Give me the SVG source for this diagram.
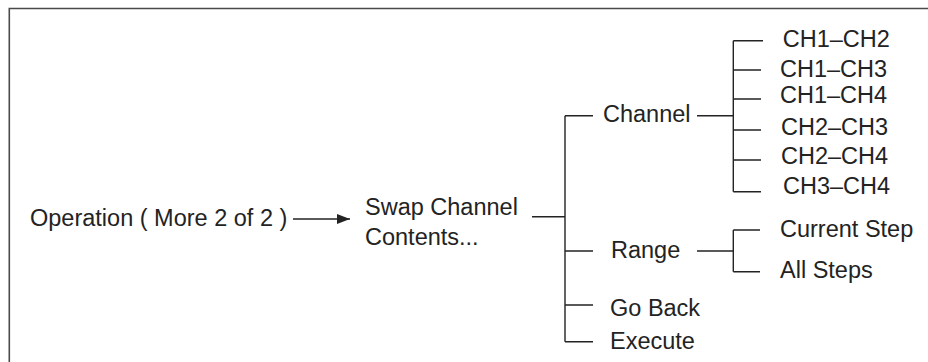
<svg xmlns="http://www.w3.org/2000/svg" width="928" height="362" viewBox="0 0 928 362">
<style>
text{font-family:"Liberation Sans",Arial,sans-serif;font-size:23.5px;fill:#232323}
.ln{stroke:#232323;stroke-width:1.4;fill:none}
.frame{stroke:#4a4a4a;stroke-width:1.6;fill:none}
</style>
<defs>
<marker id="ah" markerWidth="14" markerHeight="11" refX="13" refY="5.5" orient="auto" markerUnits="userSpaceOnUse">
<path d="M0,0.5 L13,5.5 L0,10.5 Z" fill="#232323"/>
</marker>
</defs>
<rect width="928" height="362" fill="#fff"/>
<path class="frame" d="M9.3 370 V8.5 H940"/>
<g id="connectors">
<line class="ln" x1="293" y1="219" x2="350" y2="219" marker-end="url(#ah)"/>
<path class="ln" d="M532 216.7 H565 M565 115.7 V341.7 M565 115.7 H593 M565 251 H593 M565 305 H593 M565 341.7 H593"/>
<path class="ln" d="M697 115.7 H733.3 M733.3 40.7 V191.7 M733.3 40.7 H763 M733.3 70 H761 M733.3 99 H761 M733.3 130 H761 M733.3 160 H761 M733.3 191.7 H761"/>
<path class="ln" d="M697 251 H733.3 M733.3 230 V271.7 M733.3 230 H760 M733.3 271.7 H760"/>
</g>
<g id="operation"><text x="30" y="226">Operation ( More 2 of 2 )</text></g>
<g id="swap"><text x="365" y="215">Swap Channel</text><text x="365" y="244.5">Contents...</text></g>
<g id="channel"><text x="603" y="122.3">Channel</text></g>
<g id="range"><text x="611" y="258">Range</text></g>
<g id="goback"><text x="610" y="316">Go Back</text></g>
<g id="execute"><text x="610" y="349">Execute</text></g>
<g id="ch12"><text x="782.7" y="47.3">CH1–CH2</text></g>
<g id="ch13"><text x="780" y="76.7">CH1–CH3</text></g>
<g id="ch14"><text x="780" y="102.7">CH1–CH4</text></g>
<g id="ch23"><text x="781" y="135">CH2–CH3</text></g>
<g id="ch24"><text x="781" y="164">CH2–CH4</text></g>
<g id="ch34"><text x="783" y="194">CH3–CH4</text></g>
<g id="current"><text x="780" y="237.3">Current Step</text></g>
<g id="allsteps"><text x="780" y="278.3">All Steps</text></g>
</svg>
